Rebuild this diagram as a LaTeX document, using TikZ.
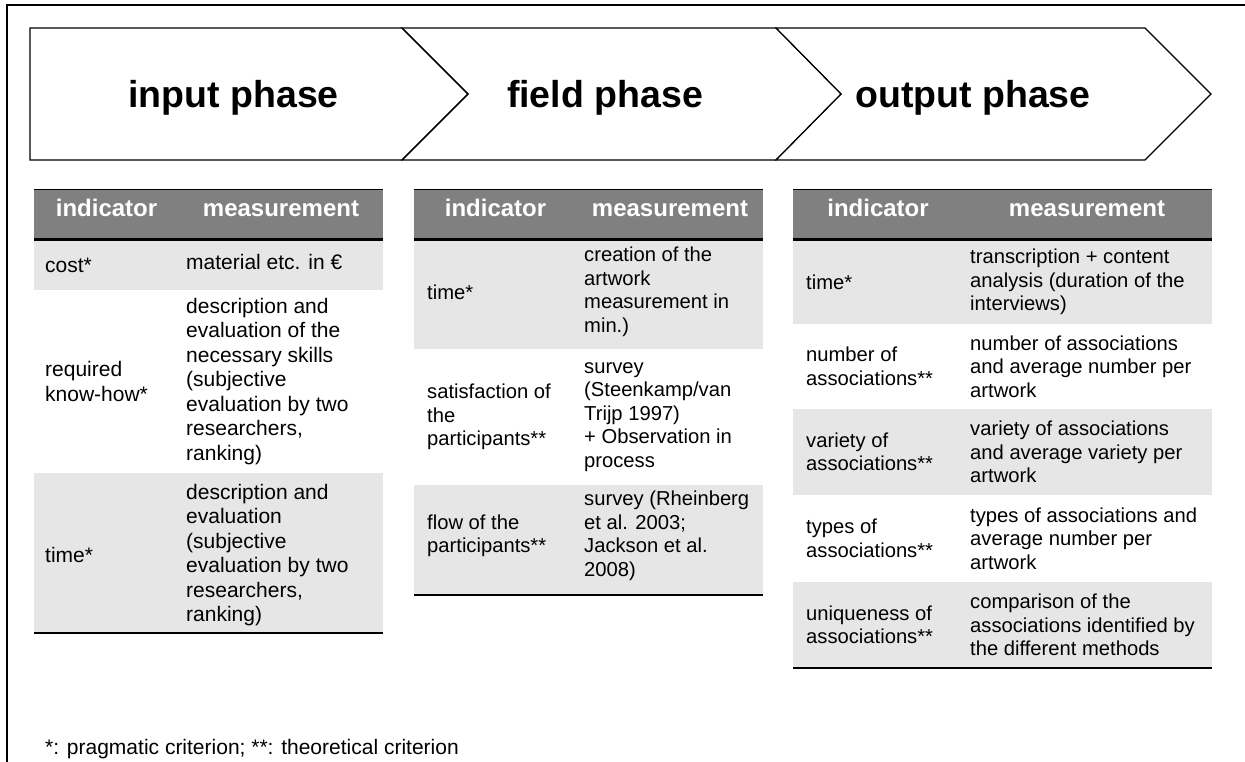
\documentclass[tikz,border=0pt]{standalone}
\usepackage{fontspec}
\setmainfont{Liberation Sans}
\definecolor{hdrgray}{RGB}{128,128,128}
\definecolor{rowgray}{RGB}{230,230,230}

\begin{document}
\begin{tikzpicture}[x=1pt,y=-1pt,
  phase/.style={font=\fontsize{37.5}{44}\selectfont\bfseries,anchor=base,inner sep=0pt},
  head/.style={font=\fontsize{24}{28}\selectfont\bfseries,text=white,anchor=base,inner sep=0pt},
  cella/.style={font=\fontsize{21}{24.5}\selectfont,align=left,anchor=west,inner sep=0pt},
  cellb/.style={font=\fontsize{20.2}{23.5}\selectfont,align=left,anchor=west,inner sep=0pt}]

\useasboundingbox (0,0) rectangle (1245,762);

% frame
\draw[line width=2pt] (7,762) -- (7,5) -- (1245,5);

% phases
\draw[line width=1.1pt] (30,28) -- (402,28) -- (468,94) -- (402,160) -- (30,160) -- cycle;
\draw[line width=1.1pt] (402,28) -- (776,28) -- (841,94) -- (776,160) -- (402,160) -- (468,94) -- cycle;
\draw[line width=1.1pt] (776,28) -- (1145,28) -- (1211,94) -- (1145,160) -- (776,160) -- (841,94) -- cycle;
\node[phase] (inph) at (233.5,108) {input phase};
\node[phase] (fiph) at (605,108) {field phase};
\node[phase] (ouph) at (973,108) {output phase};

% table input phase
\fill[hdrgray] (34,190) rectangle (383,240);
\fill[rowgray] (34,240) rectangle (383,290);
\fill[rowgray] (34,473) rectangle (383,633);
\draw[line width=1pt] (34,190) -- (383,190);
\draw[line width=3pt] (34,240) -- (383,240);
\draw[line width=2.5pt] (34,633) -- (383,633);
\node[head] (ind1) at (106.5,217) {indicator};
\node[head] (mea1) at (281,217) {measurement};
\node[cella] (c1a) at (45,265) {cost*};
\node[cella] (m1a) at (186,262) {material etc. in €};
\node[cella] (c1b) at (45,381.5) {required\\know-how*};
\node[cella] (m1b) at (186,381.5) {description and\\evaluation of the\\necessary skills\\(subjective\\evaluation by two\\researchers,\\ranking)};
\node[cella] (c1c) at (45,555) {time*};
\node[cella] (m1c) at (186,555) {description and\\evaluation\\(subjective\\evaluation by two\\researchers,\\ranking)};

% table field phase
\fill[hdrgray] (414,190) rectangle (763,240);
\fill[rowgray] (414,240) rectangle (763,349);
\fill[rowgray] (414,485) rectangle (763,595);
\draw[line width=1pt] (414,190) -- (763,190);
\draw[line width=3pt] (414,240) -- (763,240);
\draw[line width=2.5pt] (414,595) -- (763,595);
\node[head] (ind2) at (495.5,217) {indicator};
\node[head] (mea2) at (670,217) {measurement};
\node[cellb] (c2a) at (427,292) {time*};
\node[cellb] (m2a) at (584,292) {creation of the\\artwork\\measurement in\\min.)};
\node[cellb] (c2b) at (427,417) {satisfaction of\\the\\participants**};
\node[cellb] (m2b) at (584,417) {survey\\(Steenkamp/van\\Trijp 1997)\\+ Observation in\\process};
\node[cellb] (c2c) at (427,536) {flow of the\\participants**};
\node[cellb] (m2c) at (584,536) {survey (Rheinberg\\et al. 2003;\\Jackson et al.\\2008)};

% table output phase
\fill[hdrgray] (793,190) rectangle (1212,240);
\fill[rowgray] (793,240) rectangle (1212,324);
\fill[rowgray] (793,409) rectangle (1212,495);
\fill[rowgray] (793,582) rectangle (1212,668);
\draw[line width=1pt] (793,190) -- (1212,190);
\draw[line width=3pt] (793,240) -- (1212,240);
\draw[line width=2.5pt] (793,668) -- (1212,668);
\node[head] (ind3) at (878,217) {indicator};
\node[head] (mea3) at (1087,217) {measurement};
\node[cellb] (c3a) at (806,282) {time*};
\node[cellb] (m3a) at (970,282) {transcription + content\\analysis (duration of the\\interviews)};
\node[cellb] (c3b) at (806,366.5) {number of\\associations**};
\node[cellb] (m3b) at (970,366.5) {number of associations\\and average number per\\artwork};
\node[cellb] (c3c) at (806,452) {variety of\\associations**};
\node[cellb] (m3c) at (970,452) {variety of associations\\and average variety per\\artwork};
\node[cellb] (c3d) at (806,538.5) {types of\\associations**};
\node[cellb] (m3d) at (970,538.5) {types of associations and\\average number per\\artwork};
\node[cellb] (c3e) at (806,625) {uniqueness of\\associations**};
\node[cellb] (m3e) at (970,625) {comparison of the\\associations identified by\\the different methods};

% footnote
\node[anchor=base west,font=\fontsize{21}{25}\selectfont,inner sep=0pt] (note) at (45,754) {*: pragmatic criterion; **: theoretical criterion};
\end{tikzpicture}
\end{document}
